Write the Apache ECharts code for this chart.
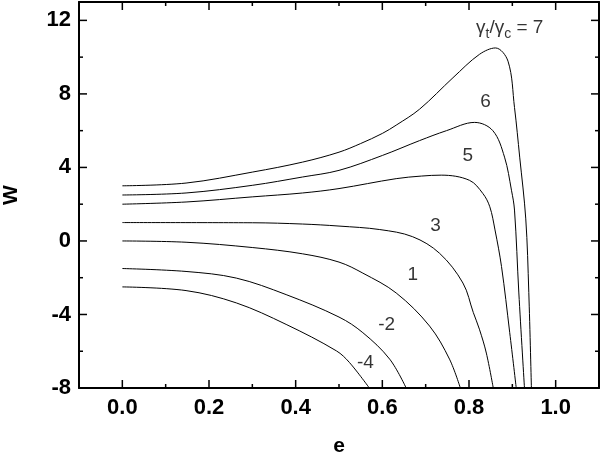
<!DOCTYPE html>
<html>
<head>
<meta charset="utf-8">
<script src="https://cdn.jsdelivr.net/npm/echarts@6/dist/echarts.min.js"></script>
<style>
  html, body { margin: 0; padding: 0; background: #fff; }
  #chart { width: 601px; height: 455px; }
</style>
</head>
<body>
<div id="chart"></div>
<script>
// curves W(e), one per gamma_t/gamma_c ratio
const curve7 = [[0,3.0],[0.147,3.15],[0.301,3.75],[0.416,4.29],[0.5,4.83],[0.55,5.3],[0.6,5.85],[0.632,6.3],[0.686,7.17],[0.763,8.88],[0.824,10.15],[0.861,10.5],[0.89,9.78],[0.905,7.26],[0.917,4.56],[0.931,1.2],[0.938,-2.8],[0.944,-8]];
const curve6 = [[0,2.5],[0.147,2.61],[0.301,3.03],[0.416,3.48],[0.5,3.84],[0.6,4.65],[0.686,5.46],[0.748,6.0],[0.813,6.45],[0.855,6.0],[0.882,4.56],[0.898,2.76],[0.905,1.68],[0.915,-2.83],[0.928,-8]];
const curve5 = [[0,2.0],[0.147,2.12],[0.301,2.4],[0.416,2.61],[0.5,2.85],[0.632,3.39],[0.69,3.53],[0.736,3.58],[0.801,3.3],[0.832,2.58],[0.848,1.86],[0.86,0.6],[0.875,-1.39],[0.894,-4.99],[0.909,-8]];
const curve3 = [[0,1.0],[0.3,0.99],[0.416,0.92],[0.5,0.81],[0.594,0.62],[0.67,0.23],[0.732,-0.67],[0.786,-2.29],[0.81,-3.9],[0.824,-4.8],[0.84,-6.1],[0.856,-8]];
const curve1 = [[0,0],[0.147,-0.07],[0.301,-0.36],[0.416,-0.7],[0.5,-1.15],[0.555,-1.75],[0.632,-2.83],[0.709,-4.63],[0.755,-6.43],[0.78,-8]];
const curveM2 = [[0,-1.5],[0.147,-1.66],[0.263,-2.02],[0.378,-2.92],[0.5,-4.14],[0.555,-4.99],[0.617,-6.43],[0.655,-8]];
const curveM4 = [[0,-2.5],[0.147,-2.7],[0.263,-3.37],[0.378,-4.54],[0.494,-5.98],[0.524,-6.61],[0.57,-8]];

// curve labels: text and where they sit (e, W)
const labelText = ['6', '5', '3', '1', '-2', '-4'];
const labelPos = [[0.838,7.57],[0.797,4.65],[0.723,0.81],[0.670,-1.84],[0.610,-4.54],[0.561,-6.6]];
const ratioLabelPos = [0.894, 11.57];

// ticks
const xMajor = [0, 0.2, 0.4, 0.6, 0.8, 1.0];
const xMinor = [0.1, 0.3, 0.5, 0.7, 0.9];
const yMajor = [-8, -4, 0, 4, 8, 12];
const yMinor = [-6, -2, 2, 6, 10];

const X_MIN = -0.1, X_MAX = 1.1, Y_MIN = -8, Y_MAX = 13;
const GRID = {left: 79, right: 2, top: 2, bottom: 67};
const W = 601, H = 455;
const FONT = 'Arial, "Liberation Sans", sans-serif';

const chart = echarts.init(document.getElementById('chart'));

// tick length in px -> data units, from the plot size
const pxX = (X_MAX - X_MIN) / (W - GRID.left - GRID.right);
const pxY = (Y_MAX - Y_MIN) / (H - GRID.top - GRID.bottom);

const tickSeries = [];
const tick = pts => tickSeries.push({
  type: 'line', data: pts, showSymbol: false, silent: true, clip: false,
  lineStyle: {color: '#000', width: 1.5}
});
// inward ticks on all four sides
xMajor.concat(xMinor).forEach(v => {
  const len = (xMajor.includes(v) ? 8 : 4) * pxY;
  tick([[v, Y_MIN], [v, Y_MIN + len]]);
  tick([[v, Y_MAX], [v, Y_MAX - len]]);
});
yMajor.concat(yMinor).forEach(v => {
  const len = (yMajor.includes(v) ? 8 : 4) * pxX;
  tick([[X_MIN, v], [X_MIN + len, v]]);
  tick([[X_MAX, v], [X_MAX - len, v]]);
});

const frameLine = {show: true, onZero: false, lineStyle: {color: '#000', width: 2}};

const line = (name, data) => ({
  name, type: 'line', data,
  showSymbol: false, smooth: 0.35,
  clip: true, silent: true,
  lineStyle: {color: '#000', width: 1}
});

chart.setOption({
  animation: false,
  grid: Object.assign({outerBoundsMode: 'none', containLabel: false}, GRID),
  xAxis: [{
    type: 'value', position: 'bottom', min: X_MIN, max: X_MAX,
    axisLine: frameLine,
    axisTick: {show: false},
    splitLine: {show: false},
    axisLabel: {show: true, customValues: xMajor, margin: 9, color: '#000', fontFamily: FONT,
      fontWeight: 'bold', fontSize: 22, formatter: v => v.toFixed(1)},
    name: 'e', nameLocation: 'middle', nameGap: 48, nameMoveOverlap: false,
    nameTextStyle: {color: '#000', fontFamily: FONT, fontWeight: 'bold', fontSize: 21}
  }, {
    type: 'value', position: 'top', min: X_MIN, max: X_MAX,
    axisLine: frameLine,
    axisTick: {show: false},
    splitLine: {show: false},
    axisLabel: {show: false}
  }],
  yAxis: [{
    type: 'value', position: 'left', min: Y_MIN, max: Y_MAX,
    axisLine: frameLine,
    axisTick: {show: false},
    splitLine: {show: false},
    axisLabel: {show: true, customValues: yMajor, margin: 8, color: '#000', fontFamily: FONT,
      fontWeight: 'bold', fontSize: 22},
    name: 'W', nameLocation: 'middle', nameGap: 57, nameMoveOverlap: false,
    nameTextStyle: {color: '#000', fontFamily: FONT, fontWeight: 'bold', fontSize: 21}
  }, {
    type: 'value', position: 'right', min: Y_MIN, max: Y_MAX,
    axisLine: frameLine,
    axisTick: {show: false},
    splitLine: {show: false},
    axisLabel: {show: false}
  }],
  series: [
    line('7', curve7),
    line('6', curve6),
    line('5', curve5),
    line('3', curve3),
    line('1', curve1),
    line('-2', curveM2),
    line('-4', curveM4),
    {
      type: 'scatter', silent: true, symbolSize: 1,
      itemStyle: {color: 'rgba(0,0,0,0)'},
      label: {show: true, position: 'inside', formatter: '{b}', color: '#000',
        fontFamily: FONT, fontSize: 19},
      data: labelPos.map((p, i) => ({name: labelText[i], value: p}))
    },
    {
      type: 'scatter', silent: true, symbolSize: 1,
      itemStyle: {color: 'rgba(0,0,0,0)'},
      label: {
        show: true, position: 'inside', color: '#000',
        formatter: '{g|γ}{s|t}{g|/γ}{s|c}{g| = 7}',
        rich: {
          g: {fontFamily: FONT, fontSize: 19, color: '#000', lineHeight: 21, verticalAlign: 'top'},
          s: {fontFamily: FONT, fontSize: 14, color: '#000', lineHeight: 21, padding: [9, 0, 0, 0], verticalAlign: 'top'}
        }
      },
      data: [{value: ratioLabelPos}]
    }
  ].concat(tickSeries)
});
</script>
</body>
</html>
